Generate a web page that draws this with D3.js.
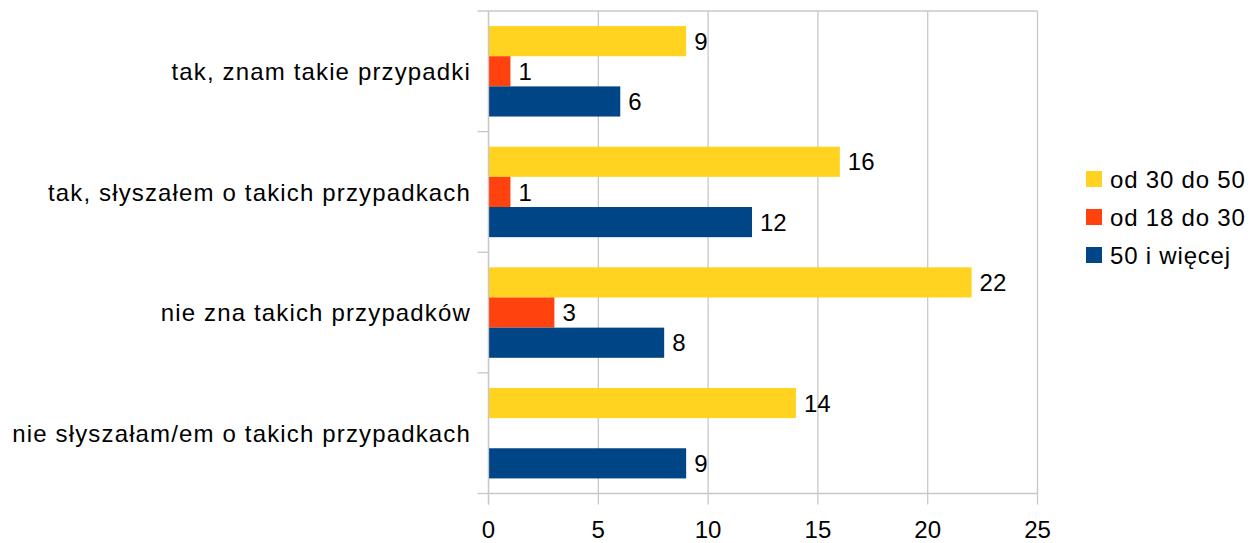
<!DOCTYPE html>
<html>
<head>
<meta charset="utf-8">
<script src="https://cdn.jsdelivr.net/npm/d3@7"></script>
<style>
  body { margin: 0; background: #fff; }
  svg text { font-family: "Liberation Sans", Arial, sans-serif; fill: #000; }
</style>
</head>
<body>
<svg id="chart" width="1258" height="543"></svg>
<script>
// data
var categories = [
  "tak, znam takie przypadki",
  "tak, słyszałem o takich przypadkach",
  "nie zna takich przypadków",
  "nie słyszałam/em o takich przypadkach"
];
var seriesNames = ["od 30 do 50", "od 18 do 30", "50 i więcej"];
var od30do50 = [9, 16, 22, 14];
var od18do30 = [1, 1, 3, 0];
var od50 = [6, 12, 8, 9];
var xTicks = [0, 5, 10, 15, 20, 25];
var colors = ["#ffd320", "#ff420e", "#004586"];

var series = [od30do50, od18do30, od50];

var svg = d3.select("#chart");
var plotL = 488.5, plotR = 1037.5, plotT = 11, plotB = 493.5;
var fontSize = 24;
var gridColor = "#c8c8c8";

var x = d3.scaleLinear().domain([0, 25]).range([plotL, plotR]);
var y = d3.scaleBand().domain(categories).range([plotT, plotB]);
var inner = d3.scaleBand().domain(d3.range(series.length)).range([0, y.bandwidth()]).paddingOuter(0.5);

// vertical gridlines, extending below as ticks
svg.append("g").selectAll("line")
  .data(xTicks)
  .enter().append("line")
  .attr("x1", function(d){ return x(d); })
  .attr("x2", function(d){ return x(d); })
  .attr("y1", plotT)
  .attr("y2", plotB + 11)
  .attr("stroke", gridColor)
  .attr("stroke-width", 1.3);

// top line
svg.append("line")
  .attr("x1", plotL - 11).attr("x2", plotR)
  .attr("y1", plotT).attr("y2", plotT)
  .attr("stroke", gridColor).attr("stroke-width", 1.3);

// category ticks on the left axis
var bounds = categories.map(function(c){ return y(c) + y.bandwidth(); });
svg.append("g").selectAll("line")
  .data(bounds)
  .enter().append("line")
  .attr("x1", plotL - 11).attr("x2", plotL)
  .attr("y1", function(d){ return d; })
  .attr("y2", function(d){ return d; })
  .attr("stroke", gridColor).attr("stroke-width", 1.3);

// bottom axis line
svg.append("line")
  .attr("x1", plotL).attr("x2", plotR)
  .attr("y1", plotB).attr("y2", plotB)
  .attr("stroke", gridColor).attr("stroke-width", 1.3);

// bars and value labels
series.forEach(function(vals, si) {
  var rows = vals.map(function(v, i){ return {cat: categories[i], v: v}; });
  var g = svg.append("g");
  g.selectAll("rect")
    .data(rows)
    .enter().append("rect")
    .attr("x", x(0))
    .attr("y", function(d){ return y(d.cat) + inner(si); })
    .attr("width", function(d){ return x(d.v) - x(0); })
    .attr("height", inner.bandwidth())
    .attr("fill", colors[si]);

  g.selectAll("text")
    .data(rows.filter(function(d){ return d.v > 0; }))
    .enter().append("text")
    .attr("x", function(d){ return x(d.v) + 8; })
    .attr("y", function(d){ return y(d.cat) + inner(si) + inner.bandwidth() / 2; })
    .attr("dy", "0.36em")
    .attr("font-size", fontSize)
    .text(function(d){ return d.v; });
});

// left axis (category) line
svg.append("line")
  .attr("x1", plotL).attr("x2", plotL)
  .attr("y1", plotT).attr("y2", plotB + 11)
  .attr("stroke", gridColor).attr("stroke-width", 1.3);

// category labels
svg.append("g").selectAll("text")
  .data(categories)
  .enter().append("text")
  .attr("x", 471)
  .attr("y", function(d){ return y(d) + y.bandwidth() / 2; })
  .attr("dy", "0.36em")
  .attr("text-anchor", "end")
  .attr("font-size", fontSize)
  .attr("letter-spacing", 1.15)
  .text(function(d){ return d; });

// x tick labels
svg.append("g").selectAll("text")
  .data(xTicks)
  .enter().append("text")
  .attr("x", function(d){ return x(d); })
  .attr("y", 529)
  .attr("dy", "0.36em")
  .attr("text-anchor", "middle")
  .attr("font-size", fontSize)
  .text(function(d){ return d; });

// legend
var legend = svg.append("g").selectAll("g")
  .data(seriesNames)
  .enter().append("g")
  .attr("transform", function(d, i){ return "translate(1086," + (179 + i * 38) + ")"; });
legend.append("rect")
  .attr("x", 0).attr("y", -8)
  .attr("width", 16).attr("height", 16)
  .attr("fill", function(d, i){ return colors[i]; });
legend.append("text")
  .attr("x", 24).attr("y", 0)
  .attr("dy", "0.36em")
  .attr("font-size", fontSize)
  .attr("letter-spacing", 0.8)
  .text(function(d){ return d; });
</script>
</body>
</html>
